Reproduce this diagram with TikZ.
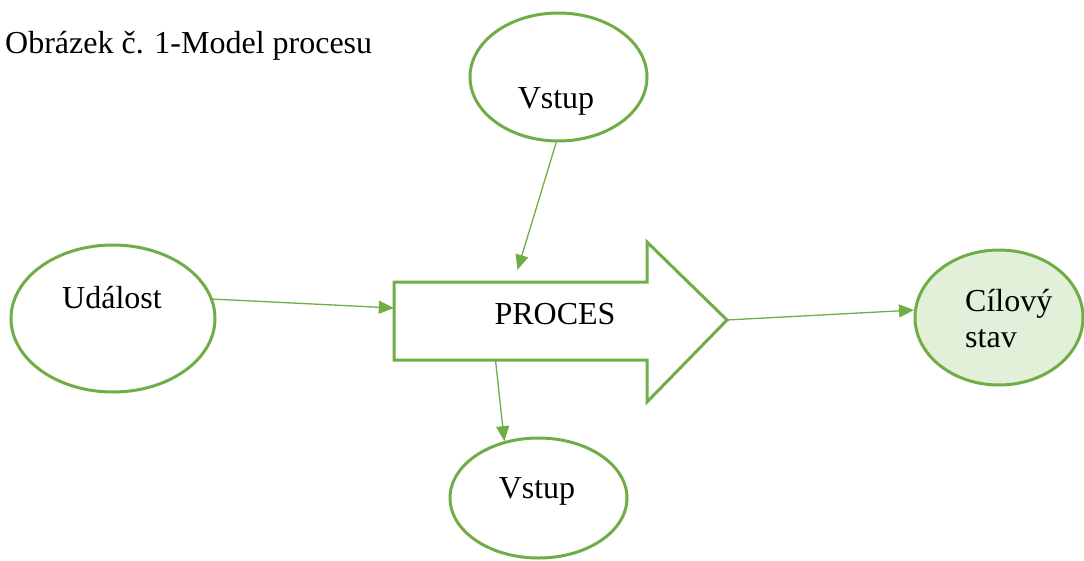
\documentclass[tikz,border=0pt]{standalone}
\usepackage{fontspec}
\setmainfont{Liberation Serif}
\usetikzlibrary{arrows.meta,shapes.geometric}
\definecolor{leaf}{HTML}{70AD47}
\definecolor{leaflight}{HTML}{E2EFD9}
\begin{document}
\begin{tikzpicture}[x=1pt,y=-1pt,
  every node/.style={font=\fontsize{32}{36}\selectfont},
  ell/.style={ellipse,draw=leaf,line width=3pt,inner sep=0pt},
  conn/.style={draw=leaf,line width=1.3pt,-{Triangle[length=15pt,width=13pt]}},
  txt/.style={inner sep=0pt,anchor=base}]
\useasboundingbox (0,0) rectangle (1084,560);

% caption
\node[txt,anchor=base west] (cap) at (5,53) {Obrázek č. 1-Model procesu};

% ellipses
\node[ell,minimum width=177pt,minimum height=128pt] (vtop) at (558.5,77) {};
\node[ell,minimum width=204pt,minimum height=147pt] (ud) at (113,318.5) {};
\node[ell,fill=leaflight,minimum width=168pt,minimum height=135pt] (cil) at (999,317.5) {};
\node[ell,minimum width=177pt,minimum height=120pt] (vbot) at (538.5,498) {};

\node[txt] (vtoptxt) at (556,108) {Vstup};
\node[txt] (udtxt) at (112,308) {Událost};
\node[txt,anchor=base west] (ciltxt1) at (965,311) {Cílový};
\node[txt,anchor=base west] (ciltxt2) at (965,347) {stav};
\node[txt] (vbottxt) at (537,498) {Vstup};

% block arrow of the process
\draw[leaf,line width=3pt,line join=miter,fill=white]
  (394,282) -- (647,282) -- (647,242) -- (727,320) -- (647,402) -- (647,360) -- (394,360) -- cycle;
\node[inner sep=0pt,minimum width=253pt,minimum height=78pt] (proc) at (520.5,321) {};
\coordinate (proctip) at (727,320);
\node[txt] (proctxt) at (555,324) {PROCES};

% connectors
\draw[conn] (vtop.-92) -- ([xshift=-3pt,yshift=12pt]proc.north);
\draw[conn] (ud.11) -- ([yshift=13pt]proc.west);
\draw[conn] (proctip) -- (cil.175);
\draw[conn] ([xshift=-25pt]proc.south) -- (vbot.121);
\end{tikzpicture}
\end{document}
